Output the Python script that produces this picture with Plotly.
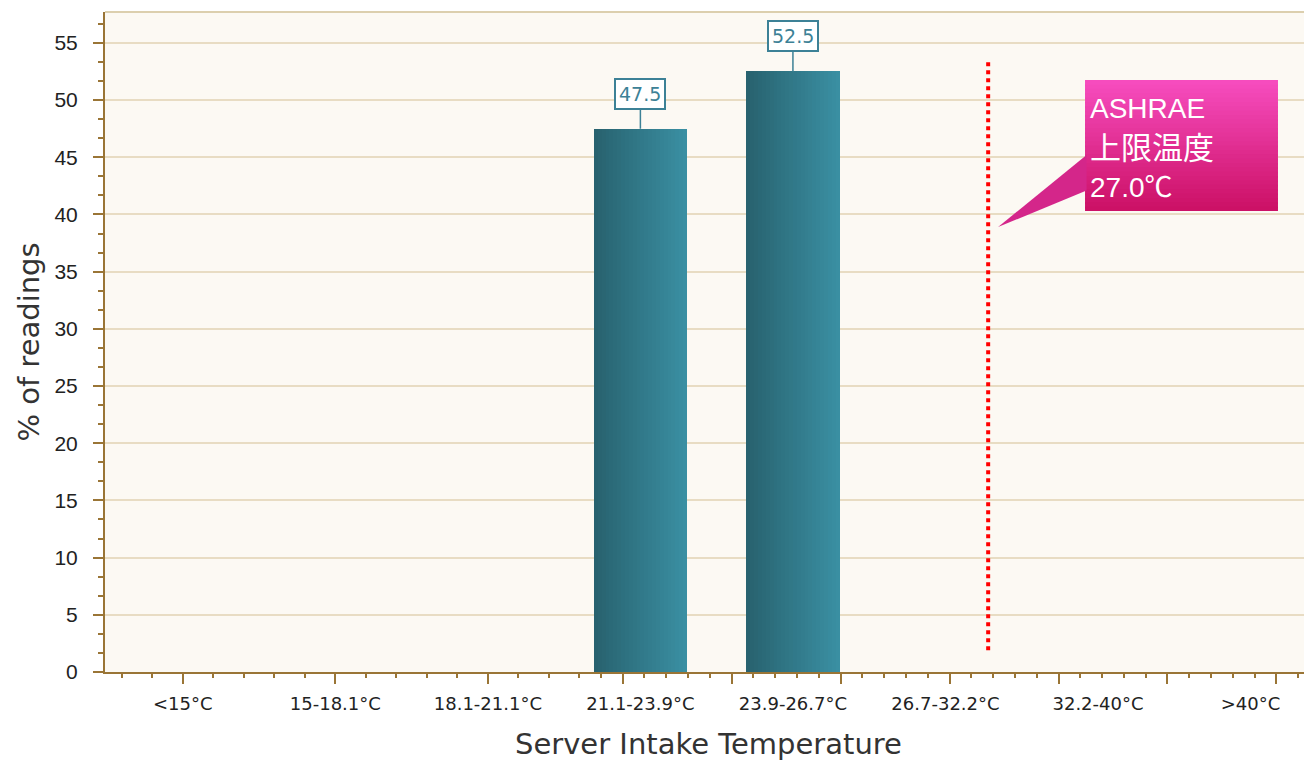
import plotly.graph_objects as go

# ---- data ----
categories = ["<15°C", "15-18.1°C", "18.1-21.1°C", "21.1-23.9°C",
              "23.9-26.7°C", "26.7-32.2°C", "32.2-40°C", ">40°C"]
percent_readings = [0, 0, 0, 47.5, 52.5, 0, 0, 0]
limit_label_lines = ["ASHRAE", "上限温度", "27.0℃"]
limit_line_x = 5.28          # position of the ASHRAE limit marker on the category scale
y_tick_values = [0, 5, 10, 15, 20, 25, 30, 35, 40, 45, 50, 55]

# ---- style ----
AXIS = "#9a7536"
GRID = "#e8dcc3"
BG = "#fcf9f3"
TEAL_L = (40, 98, 111)
TEAL_R = (58, 143, 162)
LABEL = "#3c8196"

x_range = [-0.51, 7.403]
y_range = [0, 57.7]
bar_width = 0.61
n_slices = 24

def mix(a, b, t):
    return "rgb(%d,%d,%d)" % tuple(round(a[i] + (b[i] - a[i]) * t) for i in range(3))

fig = go.Figure()

# bars drawn as thin vertical slices to give a horizontal gradient
xs = list(range(len(categories)))
for k in range(n_slices):
    w = bar_width / n_slices
    fig.add_trace(go.Bar(
        x=xs, y=percent_readings,
        width=w * 1.05, offset=-bar_width / 2 + k * w,
        marker=dict(color=mix(TEAL_L, TEAL_R, k / (n_slices - 1)), line=dict(width=0)),
        hoverinfo="skip", showlegend=False))

# value labels
for xi, v in zip(xs, percent_readings):
    if v > 0:
        fig.add_annotation(
            x=xi, y=v, text=f"{v}", showarrow=True, arrowhead=0,
            arrowwidth=1.5, arrowcolor=LABEL, ax=0, ay=-35,
            font=dict(family="DejaVu Sans", size=19, color=LABEL),
            bgcolor="white", bordercolor=LABEL, borderwidth=2, borderpad=3)

# ASHRAE limit line
fig.add_trace(go.Scatter(
    x=[limit_line_x, limit_line_x], y=[1.9, 53.3], mode="lines",
    line=dict(color="#ff0000", width=4, dash="dot"),
    hoverinfo="skip", showlegend=False))

# callout box (gradient) + pointer
bx0, bx1 = 5.915, 7.18
by0, by1 = 40.3, 51.75
top_c = (246, 76, 190)
bot_c = (204, 17, 102)
n_strips = 30
for k in range(n_strips):
    ya = by1 - (by1 - by0) * k / n_strips
    yb = by1 - (by1 - by0) * (k + 1) / n_strips
    fig.add_shape(type="rect", x0=bx0, x1=bx1, y0=yb - 0.15 if k < n_strips - 1 else yb, y1=ya,
                  fillcolor=mix(top_c, bot_c, k / (n_strips - 1)),
                  line=dict(width=0), layer="above")
fig.add_shape(type="path",
              path=f"M {bx0 + 0.01},45.2 L {limit_line_x + 0.065},38.9 L {bx0 + 0.01},42.1 Z",
              fillcolor="#d4268a", line=dict(width=0), layer="above")

line_y = [49.3, 45.8, 42.4]
line_size = [28, 31, 28]
for txt, yy, sz in zip(limit_label_lines, line_y, line_size):
    fig.add_annotation(x=bx0 + 0.02, y=yy, text=txt, showarrow=False,
                       xanchor="left", yanchor="middle",
                       font=dict(family="Liberation Sans, Noto Sans CJK JP", size=sz, color="white"))

# top border of plot
fig.add_shape(type="line", xref="paper", yref="paper", x0=0, x1=1, y0=1, y1=1,
              line=dict(color="#dccfae", width=2))

# tick marks on an overlaid axis
major_ticks = [0, 1, 2] + [2.884 + k * 5 / 7 for k in range(7)]
minor_ticks = [round(-0.4 + 0.2 * k, 3) for k in range(16)] + \
              [2.884 + k / 7 for k in range(-1, 32)]
major_ticks = [t for t in major_ticks if t < x_range[1]]
minor_ticks = [t for t in minor_ticks if t < x_range[1] and t not in major_ticks]

fig.add_trace(go.Scatter(x=[0], y=[0], xaxis="x2", mode="markers",
                         marker=dict(opacity=0), hoverinfo="skip", showlegend=False))

fig.update_layout(
    width=1304, height=756,
    margin=dict(l=97, r=0, t=4, b=92),
    paper_bgcolor="white", plot_bgcolor=BG,
    barmode="overlay", bargap=0,
    xaxis=dict(range=x_range, tickmode="array", tickvals=xs, ticktext=categories,
               showgrid=False, zeroline=False, ticks="", automargin=False,
               showline=True, linecolor=AXIS, linewidth=2,
               tickfont=dict(family="DejaVu Sans", size=18, color="#222"),
               ticklabelstandoff=14,
               title=dict(text="Server Intake Temperature", standoff=21,
                          font=dict(family="DejaVu Sans", size=29, color="#333"))),
    xaxis2=dict(range=x_range, overlaying="x", side="bottom", showgrid=False,
                zeroline=False, showticklabels=False, showline=False, automargin=False,
                tickmode="array", tickvals=major_ticks, ticks="outside",
                ticklen=11, tickwidth=2, tickcolor=AXIS,
                minor=dict(tickmode="array", tickvals=minor_ticks, ticks="outside",
                           ticklen=5, tickwidth=2, tickcolor=AXIS, showgrid=False)),
    yaxis=dict(range=y_range, tickmode="array", tickvals=y_tick_values,
               showgrid=True, gridcolor=GRID, gridwidth=2, zeroline=False,
               showline=True, linecolor=AXIS, linewidth=2, automargin=False,
               ticks="outside", ticklen=10, tickwidth=2, tickcolor=AXIS,
               minor=dict(dtick=5 / 3, tick0=0, ticks="outside", ticklen=5,
                          tickwidth=2, tickcolor=AXIS, showgrid=False),
               tickfont=dict(family="Liberation Sans", size=21, color="#222"),
               ticklabelstandoff=11,
               title=dict(text="% of readings", standoff=6,
                          font=dict(family="DejaVu Sans", size=29, color="#333"))),
)

fig.write_html("out.html")
